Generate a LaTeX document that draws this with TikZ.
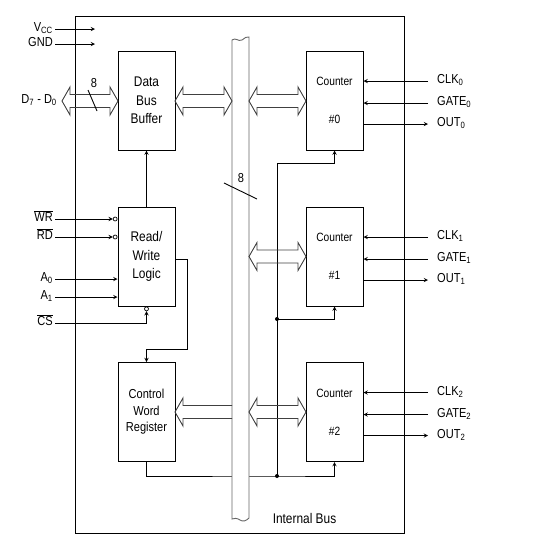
\documentclass[tikz,border=0pt]{standalone}
\usepackage{fontspec}
\setmainfont{Liberation Sans}[FakeStretch=0.85]

\tikzset{
  blk/.style={draw,line width=1pt,minimum width=57pt,minimum height=99pt,inner sep=0pt,align=center},
  lbl/.style={inner sep=0pt,font=\fontsize{13}{15}\selectfont},
  wire/.style={line width=0.9pt},
  bubble/.style={circle,draw,line width=0.7pt,inner sep=0pt,minimum size=4pt},
  busline/.style={draw=black!60,line width=0.9pt},
  fatarrow/.style={draw=black!75,line width=0.9pt},
}
% hollow bus arrows: from x #1 to x #2 at height #3
\newcommand{\dblarrow}[3]{%
  \draw[fatarrow] (#1,#3) -- ++(8,-14) -- ++(0,7.5) -- ({#2-8},{#3-6.5}) -- ++(0,-7.5)
    -- (#2,#3) -- ({#2-8},{#3+14}) -- ++(0,-7.5) -- ({#1+8},{#3+6.5}) -- ++(0,7.5) -- cycle;}
\newcommand{\sglarrow}[3]{%
  \draw[fatarrow] (#2,{#3-6.5}) -- ({#1+8},{#3-6.5}) -- ++(0,-7.5) -- (#1,#3)
    -- ({#1+8},{#3+14}) -- ++(0,-7.5) -- (#2,{#3+6.5});}

\begin{document}
\begin{tikzpicture}[x=1pt,y=-1pt,>=stealth]
\useasboundingbox (0,0) rectangle (538,552);
\draw[line width=1pt] (75,16) rectangle (404,533);

\node[blk,font=\fontsize{14}{18.5}\selectfont] (dbb) at (146.5,100.5) {Data\\Bus\\Buffer};
\node[blk,font=\fontsize{14}{18.5}\selectfont] (rwl) at (146.5,256.5) {Read/\\Write\\Logic};
\node[blk,font=\fontsize{13}{16.5}\selectfont] (cwr) at (146.5,412) {Control\\Word\\Register};

\foreach \i/\y in {0/100.5,1/256.5,2/412}{
  \node[blk,font=\fontsize{12}{14.5}\selectfont] (c\i) at (334.5,\y) {Counter\\[23.5pt]\#\i};
  \node[lbl,anchor=mid west] (clk\i) at (437,\y-19.5) {CLK\textsubscript{\i}};
  \node[lbl,anchor=mid west] (gate\i) at (437,\y+2.5) {GATE\textsubscript{\i}};
  \node[lbl,anchor=mid west] (out\i) at (437,\y+23.5) {OUT\textsubscript{\i}};
  \draw[wire,->] ([xshift=-9pt]clk\i.mid west) -- (c\i.east |- clk\i.mid west);
  \draw[wire,->] ([xshift=-9pt]gate\i.mid west) -- (c\i.east |- gate\i.mid west);
  \draw[wire,->] (c\i.east |- out\i.mid west) -- ([xshift=-9pt]out\i.mid west);
}

\node[lbl,anchor=mid east] (vcc) at (53,29) {V\textsubscript{CC}};
\node[lbl,anchor=mid east] (gnd) at (53,44) {GND};
\coordinate (vccend) at (95,29);
\coordinate (gndend) at (95,44);
\draw[wire,->] ([xshift=2pt]vcc.mid east) -- (vccend);
\draw[wire,->] ([xshift=2pt]gnd.mid east) -- (gndend);

\node[lbl,anchor=mid east] (data) at (57,101) {D\textsubscript{7} - D\textsubscript{0}};
\node[lbl,anchor=mid east] (wr) at (53,219) {$\overline{\mbox{WR}}$};
\node[lbl,anchor=mid east] (rd) at (53,237) {$\overline{\mbox{RD}}$};
\node[lbl,anchor=mid east] (a0) at (53,279) {A\textsubscript{0}};
\node[lbl,anchor=mid east] (a1) at (53,297) {A\textsubscript{1}};
\node[lbl,anchor=mid east] (cs) at (53,323) {$\overline{\mbox{CS}}$};

\node[bubble,anchor=east] (wrn) at (rwl.west |- wr.mid east) {};
\node[bubble,anchor=east] (rdn) at (rwl.west |- rd.mid east) {};
\node[bubble,anchor=north] (csn) at (rwl.south) {};
\draw[wire,->] ([xshift=2pt]wr.mid east) -- (wrn.west);
\draw[wire,->] ([xshift=2pt]rd.mid east) -- (rdn.west);
\draw[wire,->] ([xshift=2pt]a0.mid east) -- (rwl.west |- a0.mid east);
\draw[wire,->] ([xshift=2pt]a1.mid east) -- (rwl.west |- a1.mid east);
\draw[wire,->] ([xshift=2pt]cs.mid east) -| (csn.south);

\draw[wire,->] (rwl.north) -- (dbb.south);
\draw[wire,->] ([yshift=-2.5pt]rwl.east) -| (187,349) -| (cwr.north);

\coordinate (j1) at (277,319);
\coordinate (j2) at (277,476);
\draw[wire,->] (cwr.south) |- (j2) -| (c2.south);
\draw[wire,->] (j2) -- (277,163) -| (c0.south);
\draw[wire,->] (j1) -| (c1.south);
\fill (j1) circle (2);
\fill (j2) circle (2);

% internal bus
\filldraw[busline,fill=white] (232,40) .. controls (236,37) and (238,42) .. (242,40)
  .. controls (245,38) and (247,36) .. (249,37) -- (249,518)
  .. controls (246,521) and (243,522) .. (240,520)
  .. controls (237,518) and (234,518) .. (232,519) -- cycle;

\dblarrow{62}{118}{101}
\dblarrow{175}{232}{101}
\dblarrow{249}{306}{101}
\dblarrow{249}{306}{256.5}
\dblarrow{249}{306}{412}
\sglarrow{175}{232}{412}

\draw[wire] (88,90) -- (97,111);
\node[lbl] (w8a) at (94,83) {8};
\draw[wire] (224,183) -- (257,199);
\node[lbl] (w8b) at (241,178) {8};
\node[lbl,font=\fontsize{14}{16}\selectfont] (ibus) at (304.5,518) {Internal Bus};
\end{tikzpicture}
\end{document}
